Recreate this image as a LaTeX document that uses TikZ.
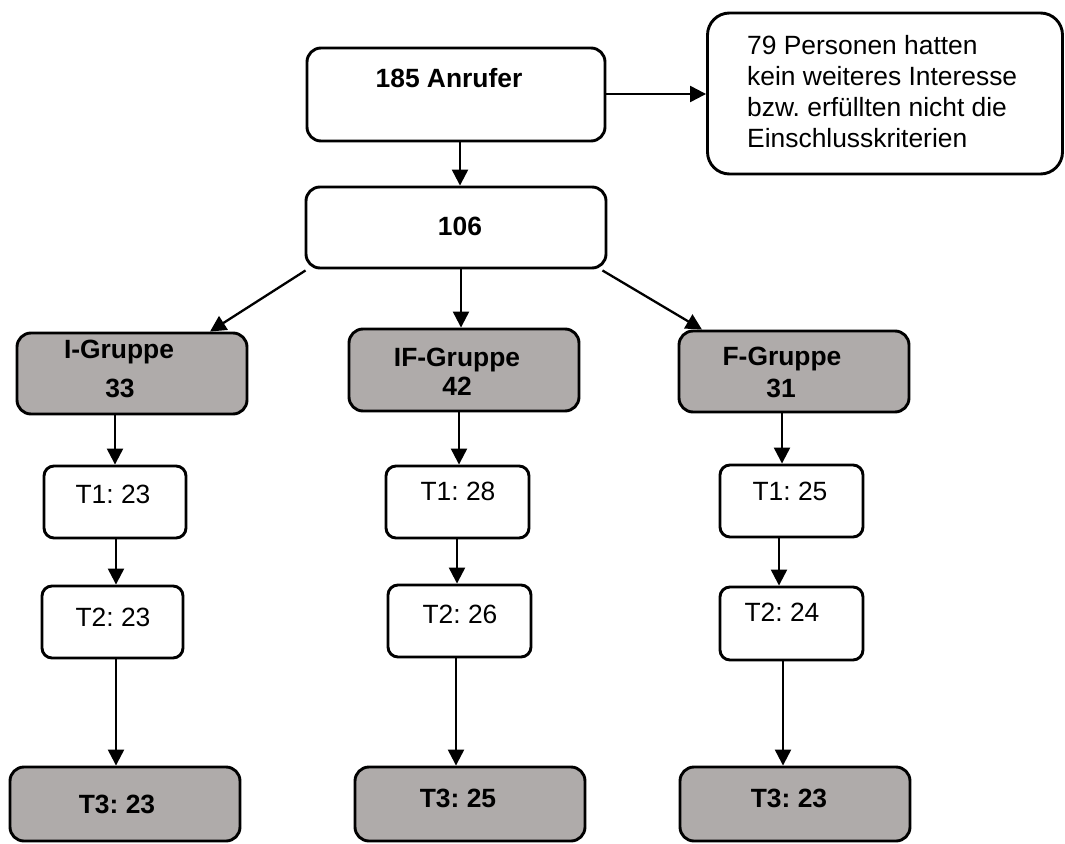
\documentclass[tikz,border=0pt]{standalone}
\usepackage{fontspec}
\setmainfont{Liberation Sans}
\usetikzlibrary{arrows.meta}
\definecolor{boxgray}{RGB}{175,171,170}
\frenchspacing
\begin{document}
\begin{tikzpicture}[x=1pt,y=-1pt,
 box/.style={draw=black, line width=2.9pt, rounded corners=14pt, inner sep=0pt, anchor=center},
 whitebox/.style={box, fill=white},
 graybox/.style={box, fill=boxgray},
 smallbox/.style={box, fill=white, rounded corners=10pt},
 arr/.style={line width=2.3pt, -{Triangle[width=16pt,length=16pt]}},
 txt/.style={anchor=base, inner sep=0pt, font=\fontsize{26.4}{31}\selectfont},
 btxt/.style={anchor=base, inner sep=0pt, font=\fontsize{26.4}{31}\selectfont\bfseries}]
\useasboundingbox (0,0) rectangle (1065,843);

% boxes
\node[whitebox, minimum width=298pt, minimum height=93pt] (A) at (456,94.5) {};
\node[whitebox, rounded corners=22pt, minimum width=355pt, minimum height=161pt] (R) at (885,93.5) {};
\node[whitebox, minimum width=300pt, minimum height=81pt] (N) at (456,227.5) {};

\node[graybox, minimum width=230pt, minimum height=81pt] (GI) at (132,373.5) {};
\node[graybox, minimum width=230pt, minimum height=82pt] (GIF) at (464,370) {};
\node[graybox, minimum width=230pt, minimum height=81pt] (GF) at (794,371.5) {};

\node[smallbox, minimum width=142pt, minimum height=72pt] (T1I) at (115,502) {};
\node[smallbox, minimum width=143pt, minimum height=72pt] (T1IF) at (457.5,502) {};
\node[smallbox, minimum width=143pt, minimum height=72pt] (T1F) at (791.5,501) {};

\node[smallbox, minimum width=141pt, minimum height=72pt] (T2I) at (112.5,622) {};
\node[smallbox, minimum width=143pt, minimum height=72pt] (T2IF) at (459.5,621) {};
\node[smallbox, minimum width=143pt, minimum height=73pt] (T2F) at (791.5,623.5) {};

\node[graybox, minimum width=230pt, minimum height=74pt] (T3I) at (125,804) {};
\node[graybox, minimum width=230pt, minimum height=74pt] (T3IF) at (470,804) {};
\node[graybox, minimum width=230pt, minimum height=74pt] (T3F) at (795,804) {};

% texts
\node[btxt] (tA) at (449,88) {185 Anrufer};
\node[txt, anchor=base west, align=left] (tR) at (747,147) {79 Personen hatten\\kein weiteres Interesse\\bzw. erfüllten nicht die\\Einschlusskriterien};
\node[btxt] (tN) at (460,235) {106};

\node[btxt] (tGIa) at (119,358) {I-Gruppe};
\node[btxt] (tGIb) at (120,397) {33};
\node[btxt] (tGIFa) at (457,366) {IF-Gruppe};
\node[btxt] (tGIFb) at (457,395) {42};
\node[btxt] (tGFa) at (782,365) {F-Gruppe};
\node[btxt] (tGFb) at (781,397) {31};

\node[txt] (tT1I) at (113,503) {T1: 23};
\node[txt] (tT1IF) at (458,500) {T1: 28};
\node[txt] (tT1F) at (790,500) {T1: 25};

\node[txt] (tT2I) at (113,626) {T2: 23};
\node[txt] (tT2IF) at (460,623) {T2: 26};
\node[txt] (tT2F) at (782,621) {T2: 24};

\node[btxt] (tT3I) at (117,813) {T3: 23};
\node[btxt] (tT3IF) at (458,807) {T3: 25};
\node[btxt] (tT3F) at (789,807) {T3: 23};

% connectors
\draw[arr] (A.south -| 460,0) -- (N.north -| 460,0);
\draw[arr] (A.east |- 0,94) -- (R.west |- 0,94);
\draw[arr] ([shift={(1pt,-1pt)}]N.south west) -- (GI.north -| 210,0);
\draw[arr] (N.south -| 461,0) -- (GIF.north -| 461,0);
\draw[arr] ([shift={(-5pt,-1pt)}]N.south east) -- (GF.north -| 702,0);

\draw[arr] (GI.south -| 115,0) -- (T1I.north -| 115,0);
\draw[arr] (T1I.south -| 116,0) -- (T2I.north -| 116,0);
\draw[arr] (T2I.south -| 116,0) -- (T3I.north -| 116,0);

\draw[arr] (GIF.south -| 459,0) -- (T1IF.north -| 459,0);
\draw[arr] (T1IF.south -| 457,0) -- (T2IF.north -| 457,0);
\draw[arr] (T2IF.south -| 456,0) -- (T3IF.north -| 456,0);

\draw[arr] (GF.south -| 782,0) -- (T1F.north -| 782,0);
\draw[arr] (T1F.south -| 779,0) -- (T2F.north -| 779,0);
\draw[arr] (T2F.south -| 783,0) -- (T3F.north -| 783,0);
\end{tikzpicture}
\end{document}
